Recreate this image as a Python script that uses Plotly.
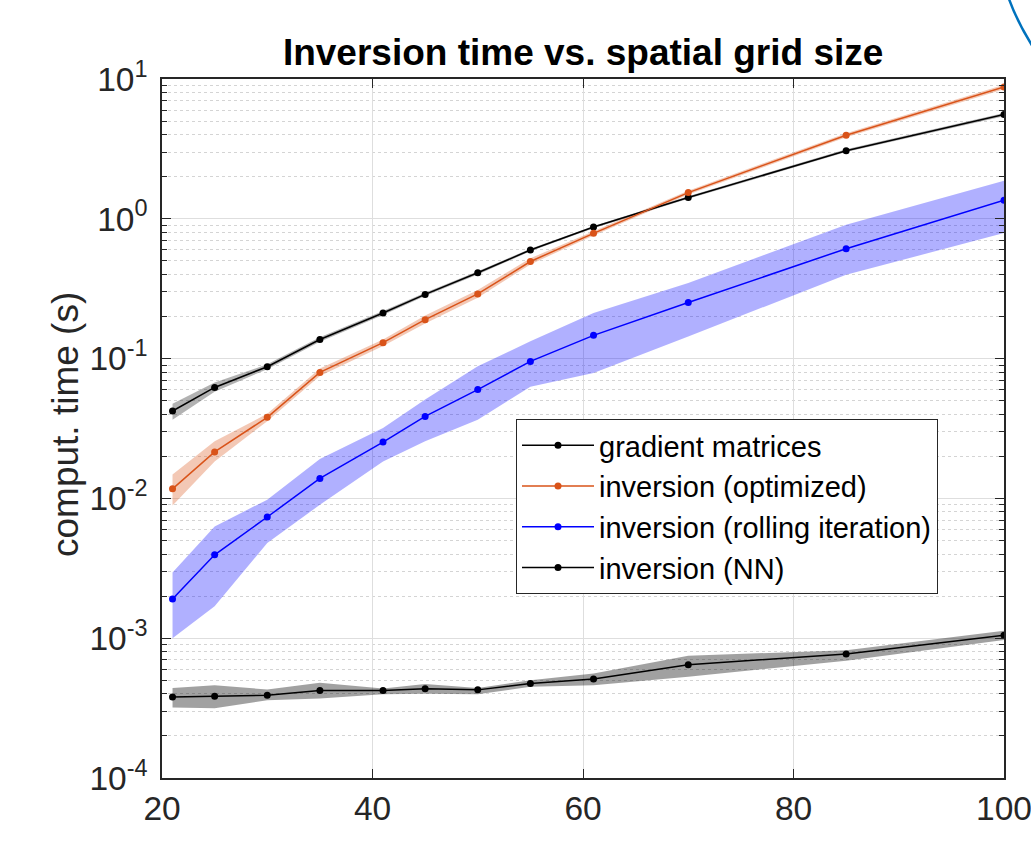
import plotly.graph_objects as go

# ---------------- data ----------------
grid_size = [21, 25, 30, 35, 41, 45, 50, 55, 61, 70, 85, 100]

grad_mean = [0.0422, 0.0622, 0.0875, 0.137, 0.212, 0.288, 0.411, 0.598, 0.873, 1.42, 3.07, 5.57]
grad_lo   = [0.0366, 0.0580, 0.0840, 0.132, 0.205, 0.280, 0.400, 0.585, 0.855, 1.39, 3.00, 5.42]
grad_hi   = [0.0475, 0.0675, 0.0910, 0.142, 0.219, 0.296, 0.422, 0.611, 0.890, 1.45, 3.14, 5.72]

opt_mean = [0.0117, 0.0215, 0.0380, 0.0797, 0.130, 0.190, 0.290, 0.495, 0.787, 1.54, 3.96, 8.77]
opt_lo   = [0.0089, 0.0184, 0.0357, 0.0750, 0.123, 0.178, 0.272, 0.472, 0.760, 1.49, 3.83, 8.45]
opt_hi   = [0.0148, 0.0256, 0.0403, 0.0850, 0.137, 0.203, 0.310, 0.522, 0.815, 1.59, 4.10, 9.10]

roll_mean = [0.00191, 0.00395, 0.00736, 0.0139, 0.0253, 0.0386, 0.0600, 0.0955, 0.1466, 0.252, 0.611, 1.36]
roll_lo   = [0.00100, 0.00169, 0.00480, 0.0090, 0.0184, 0.0256, 0.0366, 0.0630, 0.0790, 0.144, 0.398, 0.79]
roll_hi   = [0.00295, 0.00630, 0.00980, 0.0191, 0.0319, 0.0510, 0.0880, 0.1330, 0.2120, 0.348, 0.908, 1.87]

nn_mean = [3.80e-4, 3.85e-4, 3.90e-4, 4.23e-4, 4.23e-4, 4.35e-4, 4.27e-4, 4.75e-4, 5.10e-4, 6.46e-4, 7.70e-4, 1.05e-3]
nn_lo   = [3.20e-4, 3.15e-4, 3.60e-4, 3.70e-4, 3.97e-4, 4.00e-4, 3.97e-4, 4.50e-4, 4.60e-4, 5.30e-4, 6.90e-4, 9.70e-4]
nn_hi   = [4.40e-4, 4.60e-4, 4.30e-4, 4.80e-4, 4.37e-4, 4.70e-4, 4.40e-4, 5.00e-4, 5.60e-4, 7.50e-4, 8.20e-4, 1.13e-3]

series_names = ["gradient matrices", "inversion (optimized)",
                "inversion (rolling iteration)", "inversion (NN)"]

x_tick_vals = [20, 40, 60, 80, 100]
y_exponents = [-4, -3, -2, -1, 0, 1]

title_text = "Inversion time vs. spatial grid size"
y_title = "comput. time (s)"

# ---------------- styles ----------------
FONT = "Liberation Sans, Arial, Helvetica, sans-serif"
AX = "#262626"
series_style = [
    dict(color="#000000", band="rgba(0,0,0,0.30)"),
    dict(color="#D95319", band="rgba(217,83,25,0.32)"),
    dict(color="#0000FF", band="rgba(0,0,255,0.31)"),
    dict(color="#000000", band="rgba(0,0,0,0.37)"),
]
all_series = [
    (grad_mean, grad_lo, grad_hi),
    (opt_mean, opt_lo, opt_hi),
    (roll_mean, roll_lo, roll_hi),
    (nn_mean, nn_lo, nn_hi),
]

fig = go.Figure()

# bands first
for (m, lo, hi), st in zip(all_series, series_style):
    fig.add_trace(go.Scatter(
        x=grid_size + grid_size[::-1],
        y=hi + lo[::-1],
        fill="toself", fillcolor=st["band"],
        line=dict(width=0), mode="lines",
        hoverinfo="skip", showlegend=False,
    ))

for (m, lo, hi), st, name in zip(all_series, series_style, series_names):
    fig.add_trace(go.Scatter(
        x=grid_size, y=m, name=name, mode="lines+markers",
        line=dict(color=st["color"], width=1.5),
        marker=dict(color=st["color"], size=7),
    ))

y_tickvals = [10.0 ** e for e in y_exponents]
y_ticktext = [f"10<sup>{e}</sup>" for e in y_exponents]
minor_vals = [k * 10.0 ** e for e in y_exponents[:-1] for k in range(2, 10)]

fig.update_layout(
    width=1031, height=846,
    margin=dict(l=162, r=27, t=79, b=68, autoexpand=False),
    paper_bgcolor="white", plot_bgcolor="white",
    font=dict(family=FONT, color=AX),
    title=dict(text=f"<b>{title_text}</b>", x=0.5656, xanchor="center",
               y=1 - 52 / 846, yanchor="middle",
               font=dict(family=FONT, size=37, color="#000000")),
    xaxis=dict(
        range=[20, 100], tickvals=x_tick_vals,
        ticks="inside", ticklen=9, tickcolor=AX, tickwidth=1,
        showline=True, linecolor=AX, linewidth=1.5, mirror="ticks",
        showgrid=True, gridcolor="#dedede", gridwidth=1,
        zeroline=False, automargin=False,
        tickfont=dict(size=33.5, color=AX, family=FONT),
        ticklabelstandoff=0, ticklabeloverflow="allow",
    ),
    yaxis=dict(
        type="log", range=[-4, 1],
        tickmode="array", tickvals=y_tickvals, ticktext=y_ticktext,
        ticks="inside", ticklen=9, tickcolor=AX, tickwidth=1,
        showline=True, linecolor=AX, linewidth=1.5, mirror="ticks",
        showgrid=True, gridcolor="#dedede", gridwidth=1,
        zeroline=False, automargin=False,
        tickfont=dict(size=33.5, color=AX, family=FONT),
        ticklabelstandoff=6, ticklabeloverflow="allow",
        minor=dict(tickmode="array", tickvals=minor_vals,
                   ticks="inside", ticklen=5, tickcolor=AX,
                   showgrid=True, gridcolor="#d4d4d4", griddash="dot", gridwidth=1),
    ),
    legend=dict(
        x=(516 - 162) / 842, y=(778 - 419) / 699,
        xanchor="left", yanchor="top",
        bgcolor="white", bordercolor=AX, borderwidth=1,
        font=dict(size=29, family=FONT, color="#000000"),
        itemwidth=72, tracegroupgap=0,
    ),
    annotations=[dict(
        text=y_title, textangle=-90, xref="paper", yref="paper",
        x=(65 - 162) / 842, y=(778 - 425) / 699,
        xanchor="center", yanchor="middle", showarrow=False,
        font=dict(size=37, family=FONT, color=AX),
    )],
    shapes=[dict(
        type="path", xref="paper", yref="paper",
        path="M 1.0030,1.125 Q 1.0130,1.0858 1.038,1.039",
        line=dict(color="#0072BD", width=2.5),
    )],
)

fig.write_html("out.html")
